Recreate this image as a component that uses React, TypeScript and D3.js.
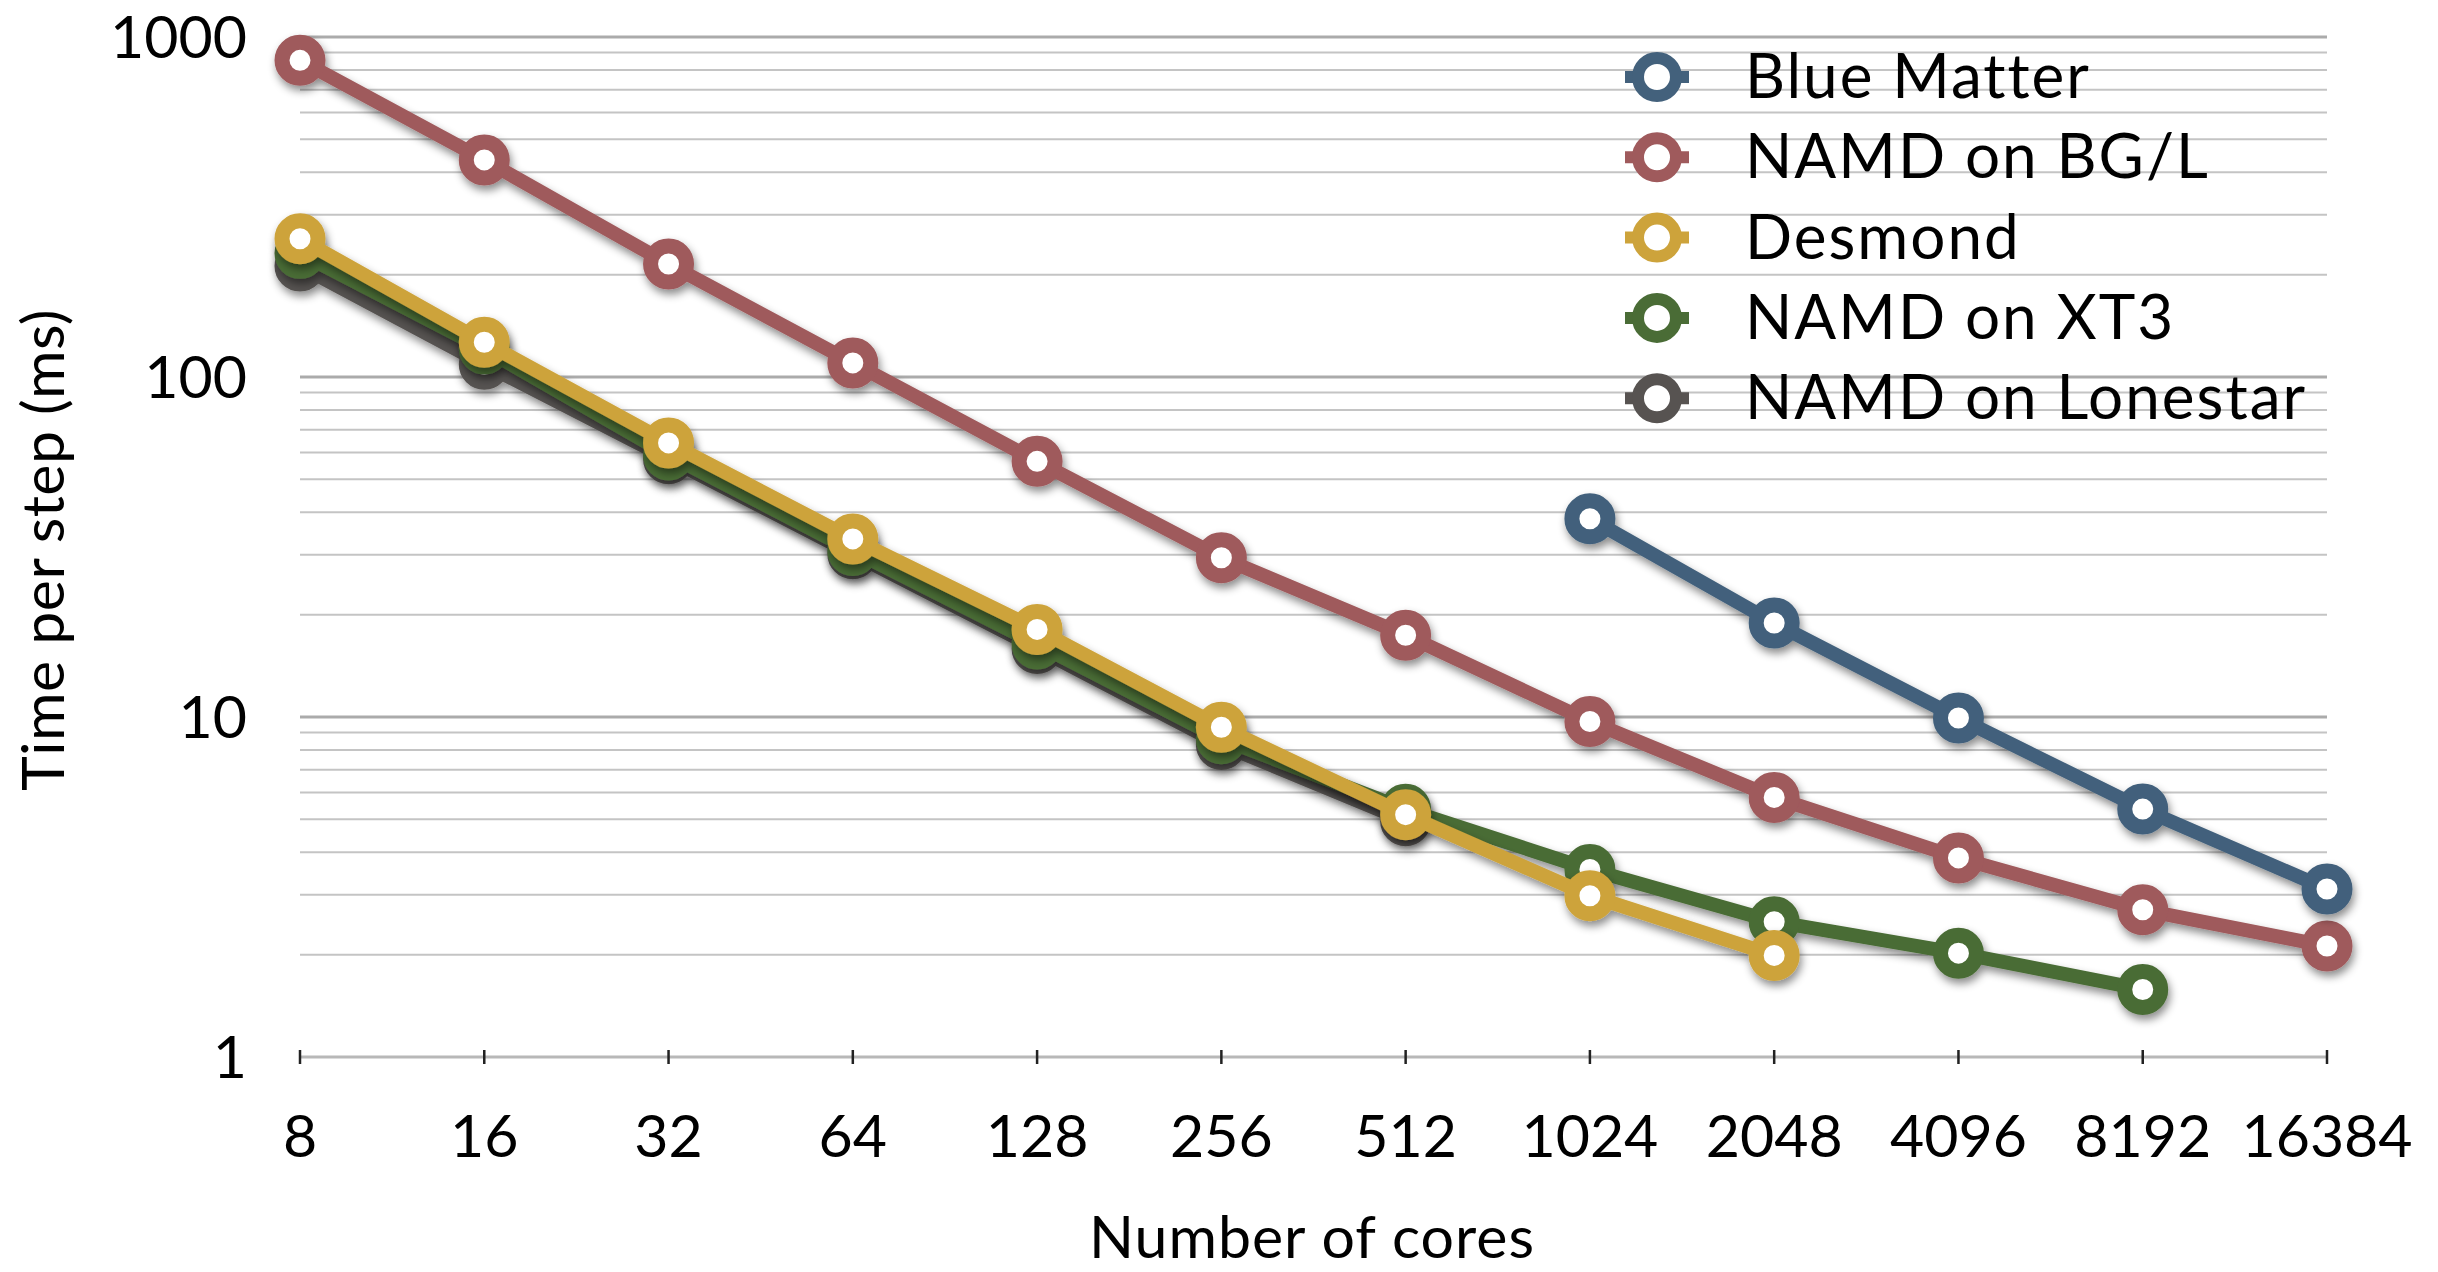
import React from "react";
import * as d3 from "d3";

const cores = [8, 16, 32, 64, 128, 256, 512, 1024, 2048, 4096, 8192, 16384];
const coreLabels = ["8", "16", "32", "64", "128", "256", "512", "1024", "2048", "4096", "8192", "16384"];
const yTicks = [1, 10, 100, 1000];
const yTickLabels = ["1", "10", "100", "1000"];

const seriesNames = ["Blue Matter", "NAMD on BG/L", "Desmond", "NAMD on XT3", "NAMD on Lonestar"];
const seriesColors = ["#43617C", "#9F5A5C", "#CDA33B", "#4A6C36", "#575351"];

const blueMatter = [null, null, null, null, null, null, null, 38.3, 18.9, 9.93, 5.36, 3.12];
const namdBGL = [854, 435, 215, 110, 56.5, 29.4, 17.4, 9.7, 5.8, 3.85, 2.71, 2.12];
const desmond = [255, 126.5, 64, 33.4, 18.1, 9.33, 5.16, 2.98, 1.99, null, null, null];
const namdXT3 = [231, 121, 59, 30.9, 16.4, 8.63, 5.35, 3.56, 2.5, 2.02, 1.58, null];
const namdLonestar = [212, 109, 57.5, 30.2, 15.9, 8.3, 4.95, null, null, null, null, null];

const seriesValues = [blueMatter, namdBGL, desmond, namdXT3, namdLonestar];

const W = 2438;
const H = 1272;
const FONT = "Lato, 'Gill Sans', sans-serif";

export default function App() {
  const x = d3.scaleLog().base(2).domain([8, 16384]).range([300, 2327]);
  const y = d3.scaleLog().domain([1, 1000]).range([1057, 37]);

  const minor: number[] = [];
  for (let dec = 1; dec < 1000; dec *= 10) {
    for (let m = 2; m <= 9; m++) minor.push(dec * m);
  }

  const line = d3
    .line<[number, number | null]>()
    .defined((d) => d[1] != null)
    .x((d) => x(d[0]))
    .y((d) => y(d[1] as number));

  const drawOrder = [4, 3, 2, 1, 0];

  const legendX = 1657;
  const legendTextX = 1745;
  const legendY0 = 77;
  const legendStep = 80.3;

  return (
    <svg
      width={W}
      height={H}
      style={{ position: "absolute", left: 0, top: 0, background: "#fff" }}
      fontFamily={FONT}
    >
      <defs>
        <filter id="shadow" x="-20%" y="-20%" width="140%" height="140%">
          <feDropShadow dx="2" dy="5" stdDeviation="4" floodColor="#000" floodOpacity="0.45" />
        </filter>
      </defs>
      <rect x={0} y={0} width={W} height={H} fill="#fff" />

      {/* minor gridlines */}
      {minor.map((v) => (
        <line key={"m" + v} x1={300} x2={2327} y1={y(v)} y2={y(v)} stroke="#c4c4c4" strokeWidth={2} />
      ))}
      {/* major gridlines */}
      {yTicks.slice(1).map((v) => (
        <line key={"M" + v} x1={300} x2={2327} y1={y(v)} y2={y(v)} stroke="#ababab" strokeWidth={3} />
      ))}
      {/* bottom axis */}
      <line x1={300} x2={2327} y1={y(1)} y2={y(1)} stroke="#b8b8b8" strokeWidth={3} />
      {cores.map((c) => (
        <line key={"t" + c} x1={x(c)} x2={x(c)} y1={y(1) - 7} y2={y(1) + 7} stroke="#222" strokeWidth={2.5} />
      ))}

      {/* y tick labels */}
      {yTicks.map((v, i) => (
        <text key={"yl" + v} x={247} y={y(v) + 21} textAnchor="end" fontSize={59} fill="#000">
          {yTickLabels[i]}
        </text>
      ))}
      {/* x tick labels */}
      {cores.map((c, i) => (
        <text key={"xl" + c} x={x(c)} y={1157} textAnchor="middle" fontSize={59} fill="#000">
          {coreLabels[i]}
        </text>
      ))}

      {/* axis titles */}
      <text x={1312} y={1258} textAnchor="middle" fontSize={59} letterSpacing={1} fill="#000">
        Number of cores
      </text>
      <text
        transform={`translate(64,550) rotate(-90)`}
        textAnchor="middle"
        fontSize={59}
        letterSpacing={0.5}
        fill="#000"
      >
        Time per step (ms)
      </text>

      {/* series */}
      {drawOrder.map((si) => {
        const pts: [number, number | null][] = cores.map((c, i) => [c, seriesValues[si][i]]);
        const color = seriesColors[si];
        return (
          <g key={"s" + si} filter="url(#shadow)">
            <path d={line(pts) || ""} fill="none" stroke={color} strokeWidth={14} strokeLinejoin="round" />
            {pts
              .filter((p) => p[1] != null)
              .map((p) => (
                <circle
                  key={"c" + p[0]}
                  cx={x(p[0])}
                  cy={y(p[1] as number)}
                  r={18}
                  fill="#fff"
                  stroke={color}
                  strokeWidth={15}
                />
              ))}
          </g>
        );
      })}

      {/* legend */}
      {seriesNames.map((name, i) => {
        const cy = legendY0 + i * legendStep;
        return (
          <g key={"lg" + i}>
            <line x1={legendX - 32} x2={legendX + 32} y1={cy} y2={cy} stroke={seriesColors[i]} strokeWidth={12} />
            <circle cx={legendX} cy={cy} r={19} fill="#fff" stroke={seriesColors[i]} strokeWidth={12} />
            <text x={legendTextX} y={cy + 21} fontSize={62} letterSpacing={2} fill="#000">
              {name}
            </text>
          </g>
        );
      })}
    </svg>
  );
}
